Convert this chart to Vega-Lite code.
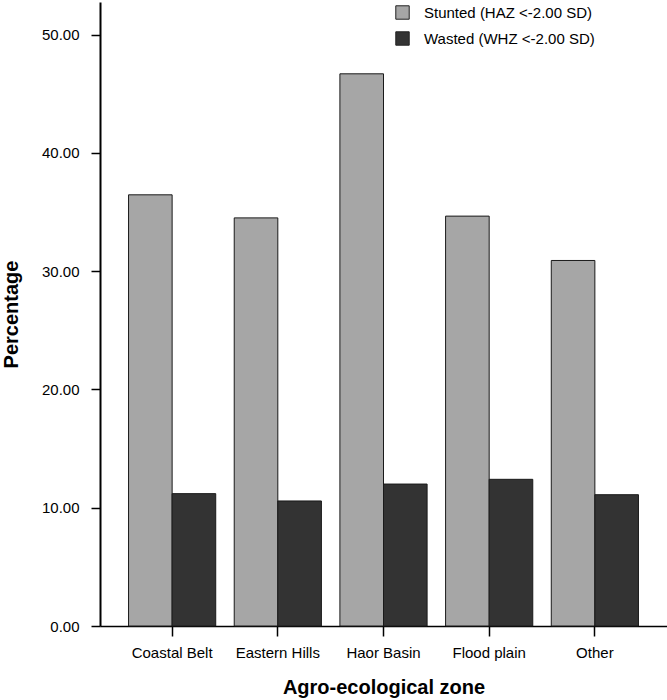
{
  "$schema": "https://vega.github.io/schema/vega-lite/v6.json",
  "autosize": {"type": "none"},
  "padding": {"left": 100, "top": 2, "right": 0, "bottom": 74},
  "width": 567,
  "height": 624,
  "background": "white",
  "config": {
    "view": {"stroke": null},
    "font": "Liberation Sans",
    "axis": {"grid": false, "domainColor": "#000", "tickColor": "#000", "labelColor": "#000", "titleColor": "#000", "labelFont": "Liberation Sans", "titleFont": "Liberation Sans"}
  },
  "data": {
    "values": [
      {"zone": "Coastal Belt", "measure": "Stunted (HAZ <-2.00 SD)", "value": 36.45},
      {"zone": "Coastal Belt", "measure": "Wasted (WHZ <-2.00 SD)", "value": 11.19},
      {"zone": "Eastern Hills", "measure": "Stunted (HAZ <-2.00 SD)", "value": 34.5},
      {"zone": "Eastern Hills", "measure": "Wasted (WHZ <-2.00 SD)", "value": 10.57},
      {"zone": "Haor Basin", "measure": "Stunted (HAZ <-2.00 SD)", "value": 46.68},
      {"zone": "Haor Basin", "measure": "Wasted (WHZ <-2.00 SD)", "value": 12.0},
      {"zone": "Flood plain", "measure": "Stunted (HAZ <-2.00 SD)", "value": 34.65},
      {"zone": "Flood plain", "measure": "Wasted (WHZ <-2.00 SD)", "value": 12.4},
      {"zone": "Other", "measure": "Stunted (HAZ <-2.00 SD)", "value": 30.9},
      {"zone": "Other", "measure": "Wasted (WHZ <-2.00 SD)", "value": 11.1}
    ]
  },
  "mark": {"type": "bar", "stroke": "#1a1a1a", "strokeWidth": 1},
  "encoding": {
    "x": {
      "field": "zone", "type": "nominal",
      "sort": ["Coastal Belt", "Eastern Hills", "Haor Basin", "Flood plain", "Other"],
      "scale": {"paddingInner": 0.175, "paddingOuter": 0.27},
      "axis": {"title": "Agro-ecological zone", "titleFontSize": 20, "titleFontWeight": "bold", "titlePadding": 17, "labelFontSize": 15, "labelAngle": 0, "labelPadding": 9, "tickSize": 10, "tickWidth": 1.5, "domainWidth": 1.5}
    },
    "xOffset": {
      "field": "measure", "type": "nominal",
      "sort": ["Stunted (HAZ <-2.00 SD)", "Wasted (WHZ <-2.00 SD)"],
      "scale": {"paddingInner": 0, "paddingOuter": 0}
    },
    "y": {
      "field": "value", "type": "quantitative",
      "scale": {"domain": [0, 52.75], "nice": false, "zero": true},
      "axis": {"title": "Percentage", "titleFontSize": 20, "titleFontWeight": "bold", "titlePadding": 20, "values": [0, 10, 20, 30, 40, 50], "format": ".2f", "labelFontSize": 15, "labelPadding": 12, "tickSize": 9, "tickWidth": 1.5, "domainWidth": 2}
    },
    "color": {
      "field": "measure", "type": "nominal",
      "scale": {"domain": ["Stunted (HAZ <-2.00 SD)", "Wasted (WHZ <-2.00 SD)"], "range": ["#a6a6a6", "#333333"]},
      "legend": {"title": null, "orient": "none", "legendX": 295, "legendY": 3, "padding": 0, "symbolType": "square", "symbolSize": 180, "symbolStrokeColor": "#222", "symbolStrokeWidth": 1, "labelFontSize": 15, "labelColor": "#000", "labelOffset": 14, "labelLimit": 0, "rowPadding": 7}
    }
  }
}
